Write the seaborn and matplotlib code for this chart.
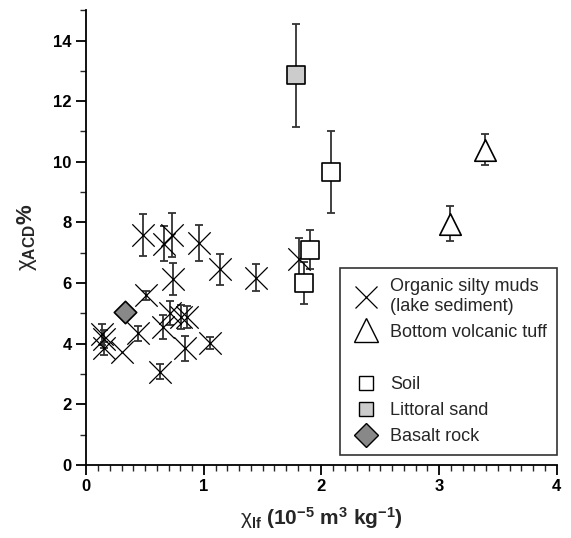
import matplotlib
matplotlib.use("Agg")
import matplotlib.pyplot as plt
from matplotlib.lines import Line2D
from matplotlib.ticker import MultipleLocator
import seaborn as sns
import pandas as pd

# ---- data ----
mud_x = [0.48, 0.66, 0.73, 0.96, 1.14, 0.74, 1.44, 1.81, 0.51, 0.71, 0.81, 0.86,
         0.65, 0.44, 0.13, 0.15, 0.155, 0.30, 0.84, 1.05, 0.63]
mud_y = [7.58, 7.30, 7.58, 7.32, 6.45, 6.13, 6.18, 6.78, 5.60, 5.00, 4.88, 4.88,
         4.56, 4.34, 4.31, 4.15, 3.84, 3.73, 3.84, 4.03, 3.07]
mud_err = [0.68, 0.57, 0.72, 0.60, 0.50, 0.53, 0.45, 0.70, 0.15, 0.40, 0.40, 0.35,
           0.40, 0.25, 0.35, 0.30, 0.20, 0.0, 0.40, 0.20, 0.25]

tuff_x = [3.09, 3.39]
tuff_y = [7.95, 10.40]
tuff_err = [0.58, 0.52]

soil_x = [1.90, 1.85, 2.08]
soil_y = [7.10, 6.00, 9.66]
soil_err = [0.65, 0.70, 1.35]

sand_x = [1.78]
sand_y = [12.86]
sand_err = [1.70]

basalt_x = [0.33]
basalt_y = [5.03]
basalt_err = [0.0]

legend_labels = ["Organic silty muds\n(lake sediment)", "Bottom volcanic tuff",
                 "Soil", "Littoral sand", "Basalt rock"]

sns.set_theme(style="ticks")
plt.rcParams['font.family'] = ['Liberation Sans', 'DejaVu Sans']
plt.rcParams['mathtext.fontset'] = 'custom'
plt.rcParams['mathtext.rm'] = 'Liberation Sans'
plt.rcParams['mathtext.bf'] = 'Liberation Sans:bold'
plt.rcParams['mathtext.it'] = 'Liberation Sans:italic'

fig = plt.figure(figsize=(5.71, 5.38), dpi=100)
ax = fig.add_axes([0.151, 0.136, 0.824, 0.845])

groups = [
    (mud_x, mud_y, mud_err, 'x', 'black', 'black', 260, 0.9),
    (tuff_x, tuff_y, tuff_err, '^', 'white', 'black', 240, 1.2),
    (soil_x, soil_y, soil_err, 's', 'white', 'black', 160, 1.2),
    (sand_x, sand_y, sand_err, 's', '#cccccc', 'black', 160, 1.2),
    (basalt_x, basalt_y, basalt_err, 'D', '#888888', 'black', 130, 1.2),
]

for gx, gy, ge, mk, fc, ec, s, lw in groups:
    df = pd.DataFrame({'x': gx, 'y': gy, 'e': ge})
    sub = df[df['e'] > 0]
    ax.errorbar(sub['x'], sub['y'], yerr=sub['e'], fmt='none', ecolor='#333333',
                elinewidth=1.3, capsize=3, capthick=1.3, zorder=2)
    if mk == 'x':
        sns.scatterplot(data=df, x='x', y='y', marker=mk, color=ec, s=s,
                        linewidth=lw, ax=ax, zorder=3, legend=False)
    else:
        sns.scatterplot(data=df, x='x', y='y', marker=mk, color=fc, edgecolor=ec,
                        s=s, linewidth=lw, ax=ax, zorder=3, legend=False)

ax.set_xlim(0, 4)
ax.set_ylim(0, 15)
ax.xaxis.set_major_locator(MultipleLocator(1))
ax.xaxis.set_minor_locator(MultipleLocator(0.1))
ax.yaxis.set_minor_locator(MultipleLocator(1))
ax.set_yticks(range(0, 15, 2))
ax.tick_params(axis='both', which='major', length=7, width=1.3, labelsize=12,
               direction='out', colors='black')
ax.tick_params(axis='both', which='minor', length=4, width=1.0, direction='out')
for lbl in ax.get_xticklabels() + ax.get_yticklabels():
    lbl.set_fontweight('bold')

sns.despine(ax=ax)
for sp in ('left', 'bottom'):
    ax.spines[sp].set_linewidth(1.3)
    ax.spines[sp].set_color('black')

ax.set_xlabel(r'$\mathrm{χ}_{\mathbf{lf}}$ (10$^{\mathbf{-5}}$ m$^{\mathbf{3}}$ kg$^{\mathbf{-1}}$)',
              fontsize=15, fontweight='bold', labelpad=8)
ax.set_ylabel(r'$\mathrm{χ}_{\mathbf{ACD}}$%', fontsize=16, fontweight='bold', labelpad=10)

handles = [
    Line2D([], [], marker='x', color='black', linestyle='none', markersize=16, markeredgewidth=0.9),
    Line2D([], [], marker='^', markerfacecolor='white', markeredgecolor='black',
           linestyle='none', markersize=17, markeredgewidth=1.0),
    Line2D([], [], linestyle='none', marker=None),
    Line2D([], [], marker='s', markerfacecolor='white', markeredgecolor='black',
           linestyle='none', markersize=10, markeredgewidth=1.0),
    Line2D([], [], marker='s', markerfacecolor='#cccccc', markeredgecolor='black',
           linestyle='none', markersize=10, markeredgewidth=1.0),
    Line2D([], [], marker='D', markerfacecolor='#888888', markeredgecolor='black',
           linestyle='none', markersize=12, markeredgewidth=1.0),
]
labels = [legend_labels[0], legend_labels[1], '', legend_labels[2],
          legend_labels[3], legend_labels[4]]
leg = ax.legend(handles, labels, loc='lower right', bbox_to_anchor=(1.0, 0.022),
                borderaxespad=0, frameon=True, fancybox=False, edgecolor='black',
                fontsize=13, handletextpad=0.5, labelspacing=0.5, borderpad=0.55,
                handlelength=1.7)
leg.get_frame().set_linewidth(1.2)

fig.savefig('out.png', dpi=100)
